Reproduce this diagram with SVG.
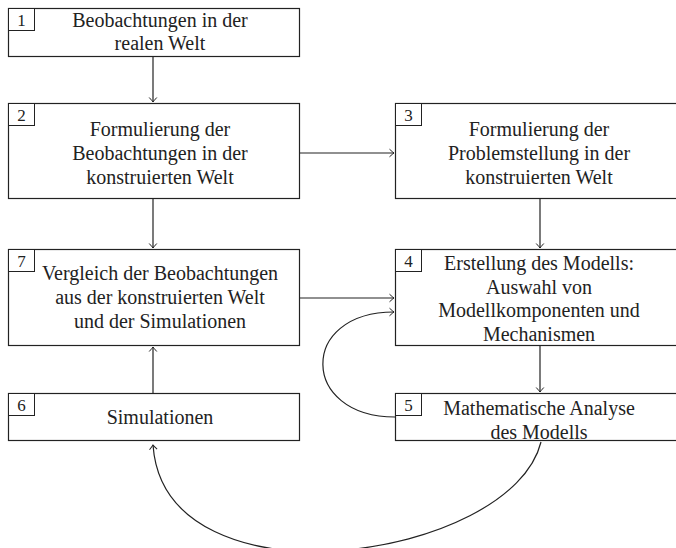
<svg xmlns="http://www.w3.org/2000/svg" width="676" height="548" viewBox="0 0 676 548">
<defs>
<marker id="arr" viewBox="-6 -5 8 10" markerWidth="8" markerHeight="10" refX="0" refY="0" orient="auto" markerUnits="userSpaceOnUse">
<path d="M-4.5,-3.8 Q-1.2,-0.8 0,0 Q-1.2,0.8 -4.5,3.8" fill="none" stroke="#222" stroke-width="1"/>
</marker>
<style>
.box{fill:#fff;stroke:#222;stroke-width:1.2}
.lab{fill:#fff;stroke:#222;stroke-width:1}
.t{font-size:20px;fill:#222;text-anchor:middle}
.n{font-size:17px;fill:#222;text-anchor:middle}
.c{fill:none;stroke:#222;stroke-width:1.2;marker-end:url(#arr)}
</style>
</defs>
<g id="connectors">
<path class="c" d="M153,56 V102"/>
<path class="c" d="M300,153 H394"/>
<path class="c" d="M153,198 V248"/>
<path class="c" d="M540,198 V248"/>
<path class="c" d="M300,298 H394"/>
<path class="c" d="M540,346 V392"/>
<path class="c" d="M153,393 V347"/>
<path class="c" d="M395,417 C300,417 298,312 394,312"/>
<path class="c" d="M541,442 C512,560 165,612 153,445"/>
</g>
<g font-family="'Liberation Serif', 'Times New Roman', serif">
<g id="n1">
<rect class="box" x="8.5" y="8.5" width="291" height="48"/>
<rect class="lab" x="8.5" y="8.5" width="26" height="22"/>
<text class="n" x="21.5" y="26">1</text>
<text class="t" x="160" y="27">Beobachtungen in der</text>
<text class="t" x="160" y="50">realen Welt</text>
</g>
<g id="n2">
<rect class="box" x="8.5" y="103.5" width="291" height="95"/>
<rect class="lab" x="8.5" y="103.5" width="26" height="22"/>
<text class="n" x="21.5" y="121">2</text>
<text class="t" x="160" y="136">Formulierung der</text>
<text class="t" x="160" y="160">Beobachtungen in der</text>
<text class="t" x="160" y="184">konstruierten Welt</text>
</g>
<g id="n3">
<rect class="box" x="395.5" y="103.5" width="291" height="95"/>
<rect class="lab" x="395.5" y="103.5" width="26" height="22"/>
<text class="n" x="408.5" y="121">3</text>
<text class="t" x="539" y="136">Formulierung der</text>
<text class="t" x="539" y="160">Problemstellung in der</text>
<text class="t" x="539" y="184">konstruierten Welt</text>
</g>
<g id="n7">
<rect class="box" x="8.5" y="249.5" width="291" height="96"/>
<rect class="lab" x="8.5" y="249.5" width="26" height="22"/>
<text class="n" x="21.5" y="267">7</text>
<text class="t" x="160" y="280">Vergleich der Beobachtungen</text>
<text class="t" x="160" y="304">aus der konstruierten Welt</text>
<text class="t" x="160" y="328">und der Simulationen</text>
</g>
<g id="n4">
<rect class="box" x="395.5" y="249.5" width="291" height="96"/>
<rect class="lab" x="395.5" y="249.5" width="26" height="22"/>
<text class="n" x="408.5" y="267">4</text>
<text class="t" x="539" y="270">Erstellung des Modells:</text>
<text class="t" x="539" y="294">Auswahl von</text>
<text class="t" x="539" y="317">Modellkomponenten und</text>
<text class="t" x="539" y="341">Mechanismen</text>
</g>
<g id="n6">
<rect class="box" x="8.5" y="393.5" width="291" height="47"/>
<rect class="lab" x="8.5" y="393.5" width="26" height="22"/>
<text class="n" x="21.5" y="411">6</text>
<text class="t" x="160" y="424">Simulationen</text>
</g>
<g id="n5">
<rect class="box" x="395.5" y="393.5" width="291" height="47"/>
<rect class="lab" x="395.5" y="393.5" width="26" height="22"/>
<text class="n" x="408.5" y="411">5</text>
<text class="t" x="539" y="415">Mathematische Analyse</text>
<text class="t" x="539" y="439">des Modells</text>
</g>
</g>
</svg>
